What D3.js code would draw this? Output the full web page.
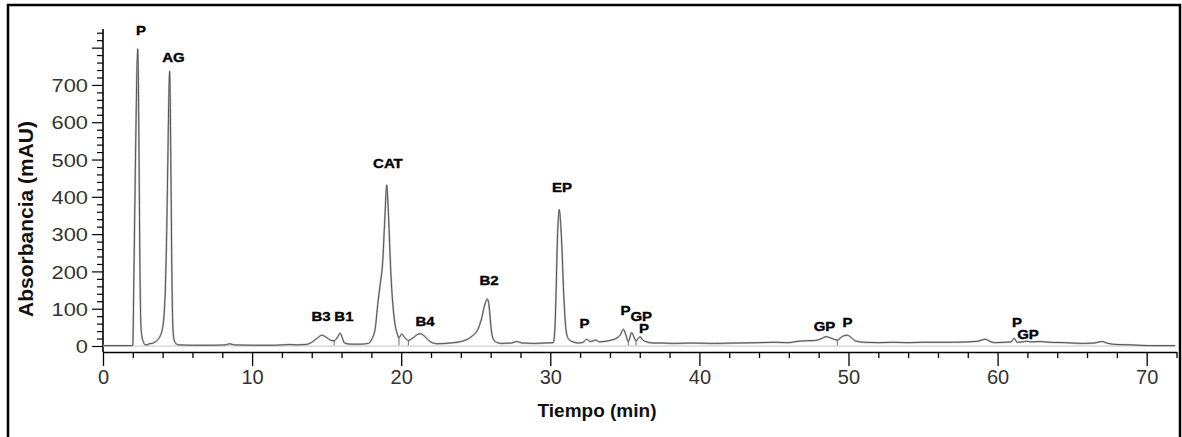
<!DOCTYPE html>
<html>
<head>
<meta charset="utf-8">
<script src="https://cdn.jsdelivr.net/npm/d3@7/dist/d3.min.js"></script>
<style>
  html, body { margin: 0; padding: 0; background: #fff; }
  svg { display: block; }
  text { font-family: "Liberation Sans", Arial, Helvetica, sans-serif; }
</style>
</head>
<body>
<svg id="chart" width="1182" height="437"></svg>
<script>
// Chromatogram trace: retention time (min) and absorbance (mAU)
const traceTime = [
  0.0, 1.0, 1.9, 2.0, 2.03, 2.06, 2.12, 2.2, 2.27, 2.33, 2.38, 2.43, 2.48, 2.53, 2.6, 2.7, 2.8, 2.95,
  3.1, 3.3, 3.5, 3.7, 3.85, 3.98, 4.08, 4.17, 4.25, 4.32, 4.39, 4.44, 4.47, 4.51, 4.56, 4.61, 4.66,
  4.72, 4.8, 4.9, 5.1, 6.0, 7.5, 8.2, 8.5, 8.8, 10.0, 11.5, 12.5, 13.0, 13.6, 14.0, 14.4, 14.67,
  14.95, 15.3, 15.5, 15.75, 15.9, 16.05, 16.2, 16.6, 17.3, 17.8, 18.05, 18.25, 18.45, 18.6, 18.75,
  18.9, 19.03, 19.15, 19.3, 19.47, 19.6, 19.72, 19.85, 20.03, 20.25, 20.48, 20.8, 21.1, 21.3, 21.6,
  21.93, 22.4, 23.3, 24.2, 24.8, 25.15, 25.4, 25.6, 25.78, 25.9, 26.0, 26.1, 26.3, 26.7, 27.4, 27.75,
  28.1, 28.9, 29.6, 30.2, 30.3, 30.38, 30.47, 30.6, 30.75, 30.9, 31.05, 31.2, 31.45, 31.9, 32.2,
  32.44, 32.66, 32.9, 33.06, 33.3, 33.6, 34.0, 34.4, 34.7, 34.9, 35.05, 35.23, 35.46, 35.6, 35.75,
  36.02, 36.2, 36.4, 36.9, 37.5, 38.2, 39.5, 41.0, 42.5, 44.0, 45.0, 46.0, 46.5, 47.2, 47.8, 48.2,
  48.5, 48.9, 49.25, 49.6, 49.92, 50.2, 50.45, 51.0, 52.0, 53.0, 54.0, 55.0, 56.0, 57.0, 58.0, 58.7,
  59.15, 59.5, 59.8, 60.5, 60.9, 61.12, 61.3, 61.7, 61.95, 62.2, 62.84, 63.5, 64.5, 65.75, 66.5,
  66.98, 67.4, 68.0, 69.0, 70.2, 71.9
];
const traceAbs = [
  1, 1, 1, 2, 60, 150, 330, 560, 730, 797, 690, 440, 200, 70, 28, 12, 4, 3,
  6, 7, 11, 18, 28, 45, 75, 140, 260, 420, 610, 710, 737, 660, 450, 230, 90,
  30, 12, 6, 3, 2, 2, 3, 6, 3, 2, 2, 4, 3, 4, 10, 22, 29,
  24, 15, 14, 25, 35, 22, 8, 5, 5, 7, 20, 45, 120, 168, 220,
  340, 432, 350, 200, 98, 55, 35, 22, 32, 22, 15, 22, 31, 33, 25,
  12, 6, 8, 14, 28, 45, 75, 110, 126, 105, 60, 28, 12, 7, 8, 12,
  8, 7, 8, 9, 40, 132, 276, 366, 290, 140, 45, 20, 12, 8, 10,
  18, 12, 14, 16, 11, 12, 15, 20, 30, 45, 32, 12, 36, 25, 14,
  25, 16, 12, 8, 8, 7, 8, 7, 8, 9, 10, 9, 12, 14, 15, 20,
  25, 20, 16, 26, 29, 22, 14, 10, 9, 10, 9, 10, 10, 10, 11, 13,
  18, 12, 9, 10, 11, 21, 10, 11, 13, 11, 12, 10, 9, 7, 8,
  12, 7, 4, 3, 1, 1
];

// Integration marks between overlapping peaks (min)
const dropTimes = [15.5, 19.85, 20.48, 35.23, 35.75, 49.25];

// Peak annotations: name, time (min) and label height (mAU)
const peakNames  = ["P", "AG", "B3", "B1", "CAT", "B4", "B2", "EP", "P", "P", "GP", "P", "GP", "P", "P", "GP"];
const peakTimes  = [2.55, 4.73, 14.62, 16.16, 19.11, 21.6, 25.89, 30.78, 32.29, 35.04, 36.1, 36.28, 48.39, 49.93, 61.3, 62.04];
const peakLevels = [834, 761, 68, 68, 477, 54, 164, 413, 49, 83, 67, 35, 41, 51, 51, 19];

// Axis ticks
const xTicks = d3.range(0, 73, 2);
const xLabelTicks = [0, 10, 20, 30, 40, 50, 60, 70];
const yTicks = d3.range(0, 841, 20);
const yLabelTicks = [0, 100, 200, 300, 400, 500, 600, 700];

const svg = d3.select("#chart");

// Outer frame
svg.append("rect")
  .attr("x", 8).attr("y", 5)
  .attr("width", 1172).attr("height", 445)
  .attr("fill", "none").attr("stroke", "#000").attr("stroke-width", 2.5);

const x = d3.scaleLinear().domain([0, 72]).range([103, 1176.5]);
const y = d3.scaleLinear().domain([0, 850]).range([346, 29]);
const axisY = y(0) + 6;

// Zero reference line
svg.append("line")
  .attr("x1", x(0)).attr("x2", x(72))
  .attr("y1", y(0)).attr("y2", y(0))
  .attr("stroke", "#c4c4c4").attr("stroke-width", 1.2);

// X axis
const gx = svg.append("g")
  .attr("transform", `translate(0,${axisY})`)
  .call(d3.axisBottom(x)
    .tickValues(xTicks)
    .tickSize(6)
    .tickSizeOuter(0)
    .tickFormat(d => xLabelTicks.includes(d) ? d : ""));
gx.select(".domain").attr("stroke", "#000").attr("stroke-width", 1.6);
gx.selectAll(".tick line")
  .attr("stroke", "#000").attr("stroke-width", 1.3)
  .attr("y2", d => xLabelTicks.includes(d) ? 14 : 6);
gx.selectAll(".tick text")
  .attr("y", 32).attr("dy", 0)
  .attr("font-size", 20)
  .attr("fill", "#333")
  .style("font-family", '"Liberation Sans", Arial, sans-serif');

// Y axis
const gy = svg.append("g")
  .attr("transform", `translate(${x(0)},0)`)
  .call(d3.axisLeft(y)
    .tickValues(yTicks)
    .tickSize(6)
    .tickSizeOuter(0)
    .tickFormat(d => yLabelTicks.includes(d) ? d : ""));
gy.select(".domain").remove();
gy.selectAll(".tick line")
  .attr("stroke", "#000").attr("stroke-width", 1.2)
  .attr("x2", d => d % 100 === 0 ? -11 : -6);
gy.selectAll(".tick text")
  .attr("x", 0).attr("dy", "0.35em")
  .attr("text-anchor", "end")
  .attr("font-size", 19)
  .attr("fill", "#333")
  .style("font-family", '"Liberation Sans", Arial, sans-serif')
  .attr("transform", "translate(-15,0) scale(1.15,1)");
svg.append("line")
  .attr("x1", x(0)).attr("x2", x(0))
  .attr("y1", y(850)).attr("y2", axisY)
  .attr("stroke", "#000").attr("stroke-width", 1.6);

// Trace
const points = traceTime.map((t, i) => [t, traceAbs[i]]);
const line = d3.line()
  .x(d => x(d[0]))
  .y(d => y(d[1]))
  .curve(d3.curveMonotoneX);

svg.append("path")
  .datum(points)
  .attr("fill", "none")
  .attr("stroke", "#c2c2c2")
  .attr("stroke-width", 2)
  .attr("stroke-linejoin", "round")
  .attr("d", line);
svg.append("path")
  .datum(points)
  .attr("fill", "none")
  .attr("stroke", "#454545")
  .attr("stroke-width", 0.9)
  .attr("stroke-linejoin", "round")
  .attr("d", line);

// Drop lines at peak valleys
const absAt = t => {
  const i = d3.bisectLeft(traceTime, t);
  if (i <= 0) return traceAbs[0];
  if (i >= traceTime.length) return traceAbs[traceAbs.length - 1];
  const t0 = traceTime[i - 1], t1 = traceTime[i];
  const k = (t - t0) / (t1 - t0);
  return traceAbs[i - 1] + k * (traceAbs[i] - traceAbs[i - 1]);
};
svg.append("g").selectAll("line")
  .data(dropTimes)
  .join("line")
  .attr("x1", d => x(d)).attr("x2", d => x(d))
  .attr("y1", d => y(absAt(d))).attr("y2", y(2))
  .attr("stroke", "#555").attr("stroke-width", 0.9);

// Peak labels
svg.append("g").selectAll("text")
  .data(peakNames.map((n, i) => ({ name: n, t: peakTimes[i], v: peakLevels[i] })))
  .join("text")
  .attr("transform", d => `translate(${x(d.t)},${y(d.v)}) scale(1.2,1)`)
  .attr("text-anchor", "middle")
  .attr("font-size", 12.5)
  .attr("font-weight", "bold")
  .attr("fill", "#000")
  .attr("stroke", "#000")
  .attr("stroke-width", 0.35)
  .text(d => d.name);

// Axis titles
svg.append("text")
  .attr("x", 597).attr("y", 417)
  .attr("text-anchor", "middle")
  .attr("font-size", 19)
  .attr("font-weight", "bold")
  .attr("fill", "#111")
  .text("Tiempo (min)");

svg.append("text")
  .attr("transform", "translate(33,219) rotate(-90)")
  .attr("text-anchor", "middle")
  .attr("font-size", 21)
  .attr("font-weight", "bold")
  .attr("fill", "#111")
  .text("Absorbancia (mAU)");
</script>
</body>
</html>
